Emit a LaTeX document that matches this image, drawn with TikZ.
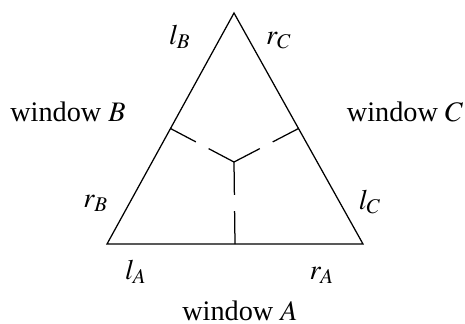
\documentclass[tikz,border=0pt]{standalone}
\usepackage{mathptmx}
\usepackage{fontspec}
\setmainfont{Liberation Serif}
\usetikzlibrary{calc}
\tikzset{edgeline/.style={black,line width=0.5pt},
  lbl/.style={anchor=base,inner sep=0pt,font=\fontsize{11.3}{13}\selectfont}}

\begin{document}
\begin{tikzpicture}[x=0.4pt,y=-0.4pt]
  \useasboundingbox (0,0) rectangle (465,323);
  \coordinate (apex) at (234,13);
  \coordinate (bl) at (107,244);
  \coordinate (br) at (363,244);
  \coordinate (ctr) at (234,162);
  \coordinate (mA) at ($(bl)!0.5!(br)$);
  \coordinate (mB) at ($(bl)!0.5!(apex)$);
  \coordinate (mC) at ($(br)!0.5!(apex)$);
  \draw[edgeline] (bl) -- (apex) -- (br) -- cycle;
  \foreach \m in {mA,mB,mC}{
    \draw[edgeline] (\m) -- ($(\m)!0.4!(ctr)$);
    \draw[edgeline] ($(\m)!0.6!(ctr)$) -- (ctr);
  }
  \node[lbl] (winA) at (240,320) {window $A$};
  \node[lbl] (winB) at (68,121) {window $B$};
  \node[lbl] (winC) at (405,121) {window $C$};
  \node[lbl] (lA) at (136,279) {$l_A$};
  \node[lbl] (rA) at (322,279) {$r_A$};
  \node[lbl] (lB) at (180,44) {$l_B$};
  \node[lbl] (rB) at (96,207) {$r_B$};
  \node[lbl] (lC) at (370,209) {$l_C$};
  \node[lbl] (rC) at (279,44) {$r_C$};
\end{tikzpicture}
\end{document}
